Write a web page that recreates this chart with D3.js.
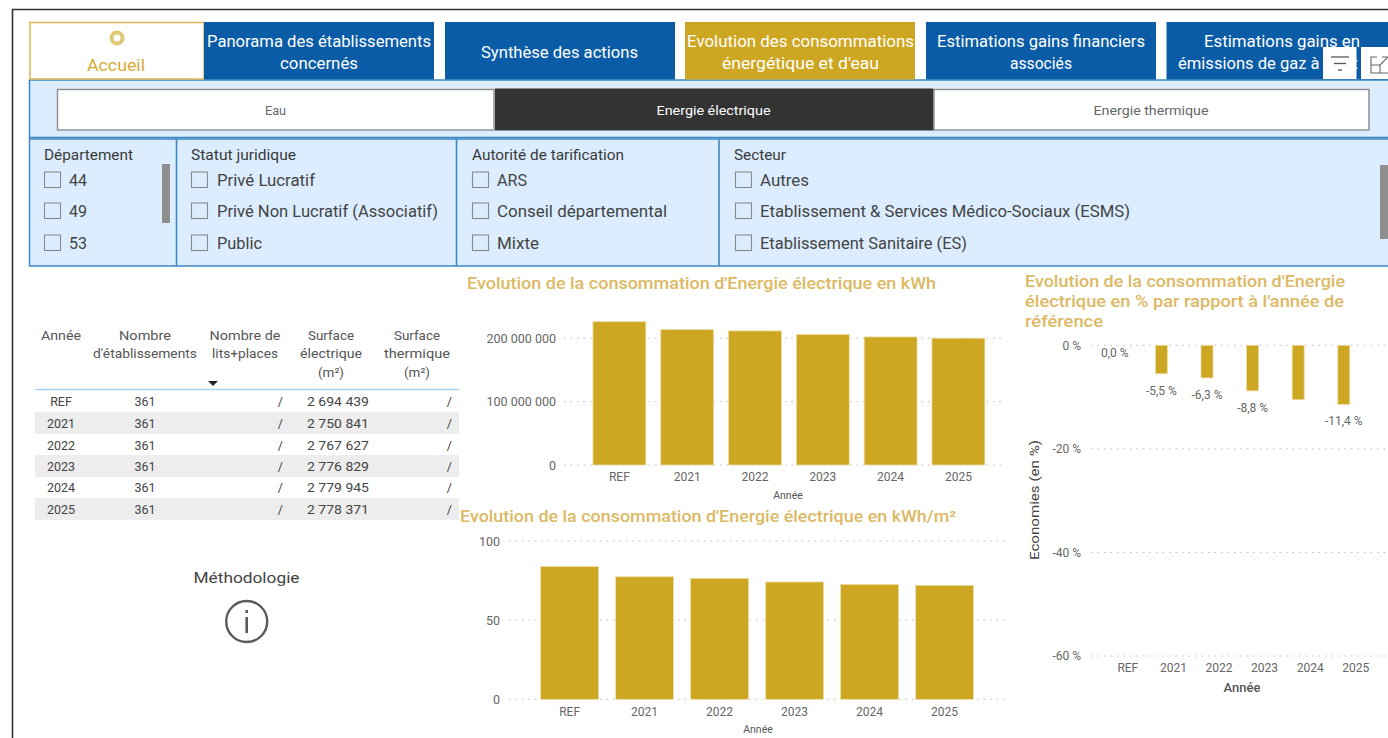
<!DOCTYPE html>
<html><head><meta charset="utf-8">
<script src="https://cdn.jsdelivr.net/npm/d3@7"></script>
<style>html,body{margin:0;padding:0;background:#fff;overflow:hidden}svg{display:block}text{font-family:Roboto,sans-serif}</style>
</head><body><div id="c"></div>
<script>
const years=["REF","2021","2022","2023","2024","2025"];
const kwh=[226000000,213600000,211500000,206000000,202000000,200000000];
const kwhM2=[83.8,77.4,76.4,74.1,72.6,72.0];
const pct=[0,-5.5,-6.3,-8.8,-10.5,-11.4];
const pctLabels=["0,0 %","-5,5 %","-6,3 %","-8,8 %",null,"-11,4 %"];
const etab=[361,361,361,361,361,361];
const surfElec=[2694439,2750841,2767627,2776829,2779945,2778371];
const kwhTicks=[0,100000000,200000000];
const m2Ticks=[0,50,100];
const pctTicks=[0,-20,-40,-60];

const GOLD="#cea722",TITLE="#dcb964",BLUE="#0a5ca6",PANEL="#dbedfe",EDGE="#3f86c4",TXT="#444";
const svg=d3.select("#c").append("svg").attr("width",1388).attr("height",738);
const rect=(x,y,w,h,fill,stroke,sw)=>svg.append("rect").attr("x",x).attr("y",y).attr("width",w).attr("height",h).attr("fill",fill).attr("stroke",stroke||"none").attr("stroke-width",sw||0);
function txt(s,x,y,o={}){
  const t=(o.g||svg).append("text").attr("x",x).attr("y",y).text(s).attr("fill",o.c||TXT)
   .attr("font-size",o.s||12).attr("font-weight",o.w||400).attr("text-anchor",o.a||"start").attr("dominant-baseline","central");
  if(o.len) t.attr("textLength",o.len).attr("lengthAdjust","spacingAndGlyphs");
  if(o.f) t.style("font-family",o.f);
  return t;
}
// outer frame
svg.append("path").attr("d","M12.5 738V9.5H1388").attr("fill","none").attr("stroke","#333").attr("stroke-width",1.6);

// filter band background
rect(29.5,80,1360,57.5,PANEL,EDGE,1.5);
rect(29.5,139,1360,127,PANEL,EDGE,1.5);
[176.5,456.5,719].forEach(x=>svg.append("line").attr("x1",x).attr("x2",x).attr("y1",139).attr("y2",266).attr("stroke",EDGE).attr("stroke-width",1.6));

// nav buttons
const nav=[
 {x:204,w:230,f:BLUE,l:[["Panorama des établissements",319,41,224],["concernés",319,63,78]]},
 {x:445,w:230,f:BLUE,l:[["Synthèse des actions",559.5,52,157]]},
 {x:685,w:230,f:GOLD,l:[["Evolution des consommations",800.5,41,227],["énergétique et d'eau",800.5,63,157]]},
 {x:926,w:230,f:BLUE,l:[["Estimations gains financiers",1041,41,208],["associés",1041,63,62]]},
 {x:1166.5,w:222,f:BLUE,l:[["Estimations gains en",1282,41,156],["émissions de gaz à effet",1268,63,180]]}
];
rect(30,22.5,174,56.5,"#fff","#dfb95e",1.6);
svg.append("circle").attr("cx",117).attr("cy",38).attr("r",5.5).attr("fill","#fff").attr("stroke","#e0c877").attr("stroke-width",4);
txt("Accueil",116,65,{c:"#d7ab33",s:17,a:"middle",len:58});
nav.forEach(b=>{rect(b.x,22,b.w,57.5,b.f);b.l.forEach(l=>txt(l[0],l[1],l[2],{c:"#fff",s:16,a:"middle",len:l[3]}));});

// top-right icons
rect(1323,47,33.5,32,"#fff");rect(1361,47,27,32,"#fff");
[[1331,1349,57],[1334,1346,63.5],[1338,1342,70]].forEach(d=>svg.append("line").attr("x1",d[0]).attr("x2",d[1]).attr("y1",d[2]).attr("y2",d[2]).attr("stroke","#555").attr("stroke-width",1.3));
svg.append("path").attr("d","M1377 57H1371V73H1388M1382 57H1388M1388 57L1380 65M1371 65H1380V73").attr("fill","none").attr("stroke","#666").attr("stroke-width",1.1);

// toggles
rect(57.5,89.5,436.5,40.5,"#fff","#8c8c8c",1.4);
rect(495.5,89,437.5,41,"#333","#333",1);
rect(934,89.5,435,40.5,"#fff","#8c8c8c",1.4);
txt("Eau",275.5,110.5,{s:12,a:"middle",c:"#666",len:21});
txt("Energie électrique",713.5,110.5,{s:12.5,a:"middle",c:"#fff",w:400,len:114});
txt("Energie thermique",1151,110.5,{s:12,a:"middle",c:"#666",len:115});

// slicers
const slicers=[
 {t:"Département",x:44,tl:89,bx:44,tx:69,items:["44","49","53"]},
 {t:"Statut juridique",x:191,tl:105,bx:191,tx:217,items:["Privé Lucratif","Privé Non Lucratif (Associatif)","Public"],lens:[98,221,45]},
 {t:"Autorité de tarification",x:472,tl:152,bx:472,tx:497,items:["ARS","Conseil départemental","Mixte"],lens:[30,170,42]},
 {t:"Secteur",x:734,tl:52,bx:735,tx:760,items:["Autres","Etablissement & Services Médico-Sociaux (ESMS)","Etablissement Sanitaire (ES)"],lens:[49,370,207]}
];
const rowsY=[180,211,243];
slicers.forEach(sl=>{
  txt(sl.t,sl.x,155,{s:14,c:"#3a3a3a",len:sl.tl});
  sl.items.forEach((it,i)=>{
    rect(sl.bx+.5,rowsY[i]-8,16,15.5,"none","#8a8a8a",1.1);
    const o={s:16,c:TXT}; if(sl.lens)o.len=sl.lens[i];
    txt(it,sl.tx,rowsY[i]+(sl.t==="Secteur"?0:.5),o);
  });
});
rect(162,164,8,59,"#8f8f8f");
rect(1380,165,8,74,"#8f8f8f");

// table
const colX=[61,145,245,331,417];
const headLens=[[40],[52,104],[71,66],[46,62,26],[46,66,26]];
[["Année"],["Nombre","d'établissements"],["Nombre de","lits+places"],["Surface","électrique","(m²)"],["Surface","thermique","(m²)"]].forEach((ls,i)=>
  ls.forEach((l,j)=>txt(l,colX[i],335+j*18.5,{s:13,a:"middle",c:"#555",len:headLens[i][j]})));
svg.append("path").attr("d","M208 381H218L213 386Z").attr("fill","#222");
svg.append("line").attr("x1",35).attr("x2",459).attr("y1",389.5).attr("y2",389.5).attr("stroke","#a9d2f3").attr("stroke-width",1.4);
const rowY=[401.5,423,445,466,487,509];
const fmt=d3.formatLocale({decimal:",",thousands:" ",grouping:[3],currency:["",""]}).format(",d");
years.forEach((y,i)=>{
  if(i%2)rect(35,rowY[i]-11,424,22,"#ededed");
  txt(y,61,rowY[i],{s:12.5,a:"middle"});
  txt(etab[i],145,rowY[i],{s:12.5,a:"middle"});
  txt("/",283,rowY[i],{s:12.5,a:"end"});
  txt(fmt(surfElec[i]),369,rowY[i],{s:12.5,a:"end",len:62});
  txt("/",452,rowY[i],{s:12.5,a:"end"});
});
txt("Méthodologie",246.5,578,{s:15,a:"middle",c:"#444",w:400,len:106});
svg.append("circle").attr("cx",246.7).attr("cy",621.5).attr("r",20.5).attr("fill","none").attr("stroke","#5a5a5a").attr("stroke-width",2.4);
svg.append("rect").attr("x",245.4).attr("y",617).attr("width",2.6).attr("height",16).attr("fill","#5a5a5a");
svg.append("rect").attr("x",245.4).attr("y",610).attr("width",2.6).attr("height",3).attr("fill","#5a5a5a");

// charts
function chart(c){
  const g=svg.append("g");
  const x=d3.scaleBand().domain(years).range(c.xr).paddingInner(c.pad).paddingOuter(c.pad/2);
  const y=d3.scaleLinear().domain(c.dom).range(c.yr);
  const ax=g.append("g").attr("transform",`translate(${c.tx},0)`)
    .call(d3.axisLeft(y).tickValues(c.ticks).tickFormat(c.fmt).tickSize(0).tickPadding(0));
  ax.select(".domain").remove();
  ax.selectAll("text").attr("fill","#666").attr("font-size",c.ts).style("font-family","Roboto,sans-serif");
  g.append("g").selectAll("line").data(c.ticks).join("line")
    .attr("x1",c.g0).attr("x2",c.g1).attr("y1",d=>y(d)).attr("y2",d=>y(d))
    .attr("stroke","#bdbdbd").attr("stroke-dasharray","1.5 5").attr("stroke-width",1);
  const base=y(0);
  g.append("g").selectAll("rect").data(c.vals).join("rect")
    .attr("x",(d,i)=>x(years[i])).attr("width",x.bandwidth())
    .attr("y",d=>Math.min(y(d),base)).attr("height",d=>Math.abs(y(d)-base))
    .attr("fill",GOLD).attr("stroke","#ecdca6").attr("stroke-width",d=>d===0?0:.8);
  const bx=g.append("g").attr("transform",`translate(${c.xShift||0},${c.xAxisY})`)
    .call(d3.axisBottom(x).tickSize(0).tickPadding(0));
  bx.select(".domain").remove();
  bx.selectAll("text").attr("fill","#666").attr("font-size",c.xs).attr("dy",0).attr("dominant-baseline","central").style("font-family","Roboto,sans-serif");
  txt("Année",c.axx,c.axy,{g,s:c.axs,a:"middle",c:"#555",w:c.axw||400});
  return {x,y,g};
}
const sp=d3.formatLocale({decimal:",",thousands:" ",grouping:[3],currency:["",""]}).format(",d");
chart({vals:kwh,xr:[585.5,992.3],pad:.22,dom:[0,200000000],yr:[465,338.2],ticks:kwhTicks,fmt:sp,tx:556,ts:12.5,g0:564,g1:1005,xAxisY:477,xs:12,axx:788,axy:495,axs:10.5});
chart({vals:kwhM2,xr:[532.1,982.1],pad:.228,dom:[0,100],yr:[699.3,541],ticks:m2Ticks,fmt:d=>d,tx:500,ts:12.5,g0:509,g1:1005,xAxisY:712,xs:12,axx:758,axy:729.5,axs:10.5});
const c3=chart({vals:pct,xr:[1093,1366.6],pad:.737,dom:[-60,0],yr:[656,345.3],ticks:pctTicks,fmt:d=>d+" %",tx:1081,ts:12,g0:1091,g1:1388,xAxisY:668,xs:12,xShift:12,axx:1242,axy:687.5,axs:13,axw:500});
const labelOff=[353,391,395,408,null,421];
pctLabels.forEach((l,i)=>{ if(l) txt(l,c3.x(years[i])+c3.x.bandwidth()/2+(i===0?-1:0),labelOff[i],{g:c3.g,s:12,a:"middle",c:"#666"}); });
txt("Economies (en %)",0,0,{g:c3.g,s:12.5,a:"middle",c:"#444",w:400,len:120}).attr("transform","translate(1034,500) rotate(-90)");

// titles
const T={s:16,w:500,c:TITLE};
txt("Evolution de la consommation d'Energie électrique en kWh",467,283,{...T,len:469});
txt("Evolution de la consommation d'Energie électrique en kWh/m²",460,516.5,{...T,len:496});
txt("Evolution de la consommation d'Energie",1025,281.5,{...T,len:320});
txt("électrique en % par rapport à l'année de",1025,301.5,{...T,len:319});
txt("référence",1025,321.5,{...T,len:78});
</script></body></html>
